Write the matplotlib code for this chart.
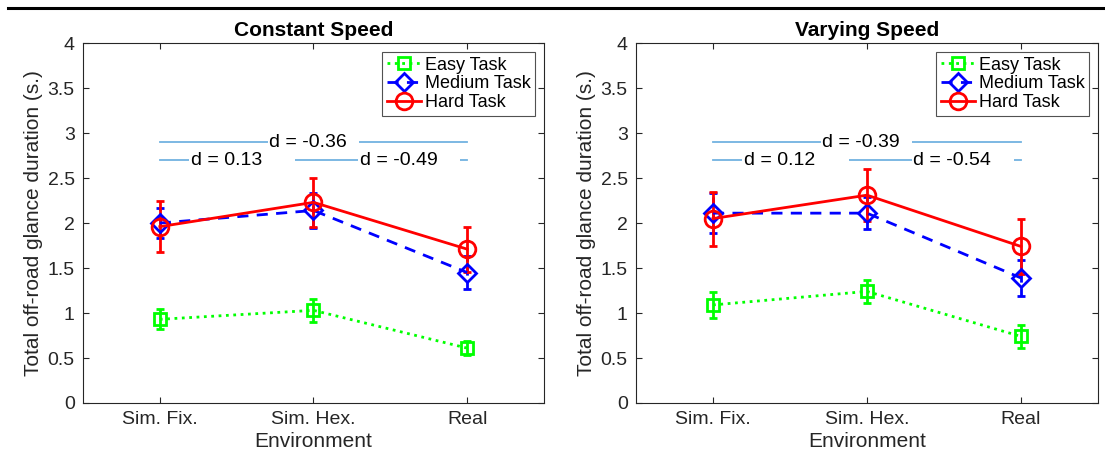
import matplotlib
matplotlib.use('Agg')
import matplotlib.pyplot as plt
from matplotlib.lines import Line2D

plt.rcParams['font.family'] = ['Liberation Sans', 'DejaVu Sans']

envs = ['Sim. Fix.', 'Sim. Hex.', 'Real']
x = [1, 2, 3]
titles = ['Constant Speed', 'Varying Speed']

# mean and error (half-width) per panel
easy_mean = [[0.93, 1.03, 0.61], [1.09, 1.24, 0.74]]
easy_err = [[0.11, 0.13, 0.08], [0.14, 0.13, 0.13]]
medium_mean = [[2.00, 2.14, 1.45], [2.11, 2.11, 1.39]]
medium_err = [[0.17, 0.19, 0.18], [0.22, 0.18, 0.20]]
hard_mean = [[1.96, 2.23, 1.71], [2.05, 2.31, 1.74]]
hard_err = [[0.28, 0.27, 0.25], [0.30, 0.29, 0.31]]

# effect sizes: (sim fix vs real), (sim fix vs sim hex), (sim hex vs real)
d_top = ['d = -0.36', 'd = -0.39']
d_left = ['d = 0.13', 'd = 0.12']
d_right = ['d = -0.49', 'd = -0.54']

fig = plt.figure(figsize=(11.05, 4.68), dpi=100)
ax_pos = [[0.0751, 0.1389, 0.4172, 0.769], [0.5756, 0.1389, 0.418, 0.769]]
dcol = '#72B2E0'
tc = '#262626'

styles = [
    dict(color='#00FF00', ls=':', marker='s', ms=9, label='Easy Task'),
    dict(color='#0000FF', ls='--', marker='D', ms=9, label='Medium Task', dashes=(4, 3)),
    dict(color='#FF0000', ls='-', marker='o', ms=12, label='Hard Task'),
]

for i in range(2):
    ax = fig.add_axes(ax_pos[i])
    series = [(easy_mean[i], easy_err[i]), (medium_mean[i], medium_err[i]), (hard_mean[i], hard_err[i])]
    handles = []
    for (m, e), st in zip(series, styles):
        eb = ax.errorbar(x, m, yerr=e, lw=2, mfc='none', mew=2, capsize=3, elinewidth=2, **st)
        if st['ls'] == '--':
            eb[2][0].set_linestyle((0, (3, 2)))
        handles.append(Line2D([], [], lw=2, mfc='none', mew=2, **st))

    # effect size annotations
    ax.plot([1, 3], [2.9, 2.9], color=dcol, lw=1.3, zorder=1)
    ax.plot([1, 3], [2.7, 2.7], color=dcol, lw=1.3, zorder=1)
    box = dict(facecolor='white', edgecolor='none', pad=1)
    ax.text(1.71, 2.9, d_top[i] + '  ', ha='left', va='center', fontsize=14, bbox=box, zorder=2)
    ax.text(1.2, 2.7, d_left[i] + '      ', ha='left', va='center', fontsize=14, bbox=box, zorder=2)
    ax.text(2.3, 2.7, d_right[i] + '    ', ha='left', va='center', fontsize=14, bbox=box, zorder=2)

    ax.set_xlim(0.5, 3.5)
    ax.set_ylim(0, 4)
    ax.set_xticks(x)
    ax.set_xticklabels(envs)
    ax.set_yticks([0, 0.5, 1, 1.5, 2, 2.5, 3, 3.5, 4])
    ax.set_yticklabels(['0', '0.5', '1', '1.5', '2', '2.5', '3', '3.5', '4'])
    ax.tick_params(direction='in', top=True, right=True, labelsize=14, length=4, color=tc,
                   labelcolor=tc, pad=6)
    for s in ax.spines.values():
        s.set_color(tc)
        s.set_linewidth(0.8)
    ax.set_xlabel('Environment', fontsize=15, color=tc, labelpad=3)
    ax.set_ylabel('Total off-road glance duration (s.)', fontsize=15, color=tc, labelpad=3)
    ax.set_title(titles[i], fontsize=15, fontweight='bold', pad=5)

    leg = ax.legend(handles=handles, loc='upper right', fontsize=13, frameon=True, fancybox=False,
                    handlelength=1.9, handletextpad=0.2, borderpad=0.25, labelspacing=0.1,
                    borderaxespad=0.5)
    leg.get_frame().set_edgecolor(tc)
    leg.get_frame().set_linewidth(0.8)

# rule across the top of the figure
fig.add_artist(Line2D([0.007, 1.0], [0.983, 0.983], color='black', lw=2.2))

fig.savefig('out.png', dpi=100)
